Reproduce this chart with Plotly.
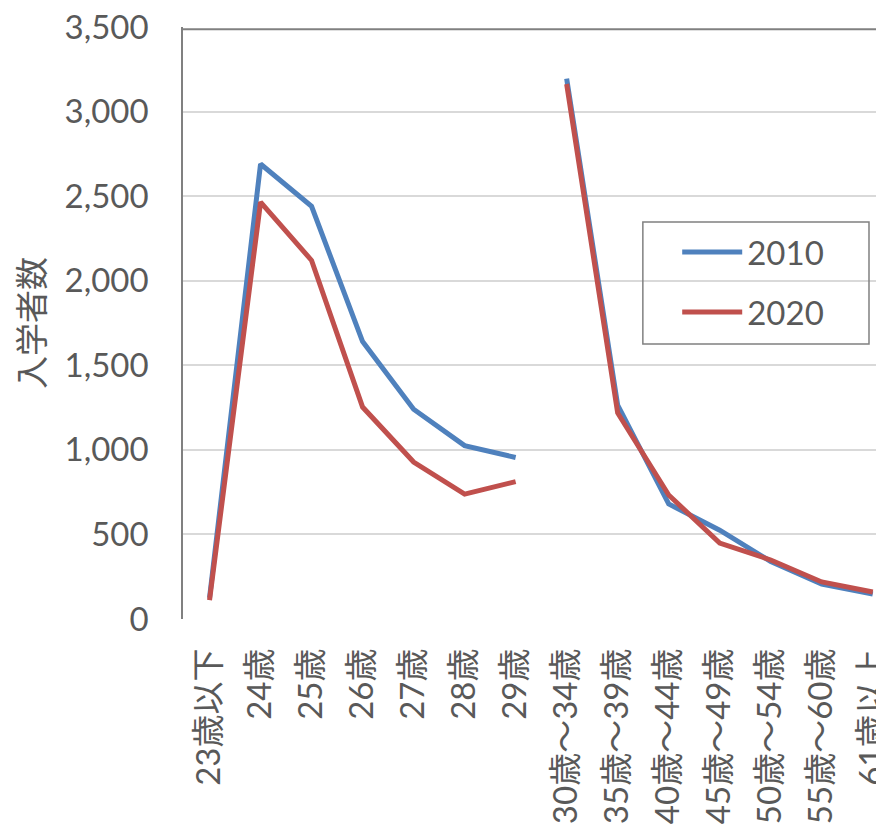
import plotly.graph_objects as go

categories = ["23歳以下", "24歳", "25歳", "26歳", "27歳", "28歳", "29歳",
              "30歳～34歳", "35歳～39歳", "40歳～44歳", "45歳～49歳",
              "50歳～54歳", "55歳～60歳", "61歳以上"]
values_2010 = [125, 2690, 2440, 1640, 1240, 1025, 955,
               3195, 1265, 680, 525, 340, 207, 148]
values_2020 = [112, 2465, 2120, 1253, 928, 738, 812,
               3163, 1218, 733, 449, 349, 219, 160]
series_names = ["2010", "2020"]
colors = ["#4F81BD", "#C0504D"]
split = 7  # the line is broken between 29歳 and 30歳～34歳

FONT = "Lato, 'Noto Sans CJK JP', sans-serif"
TXT = "#595959"

fig = go.Figure()
for name, vals, col in zip(series_names, [values_2010, values_2020], colors):
    for seg, (a, b) in enumerate([(0, split), (split, len(categories))]):
        fig.add_trace(go.Scatter(
            x=categories[a:b], y=vals[a:b], mode="lines", name=name,
            legendgroup=name, showlegend=(seg == 0),
            line=dict(color=col, width=5),
            hoverinfo="x+y+name"))

fig.update_layout(
    width=884, height=829,
    margin=dict(l=175, r=8, t=19, b=218, autoexpand=False),
    paper_bgcolor="white", plot_bgcolor="white",
    font=dict(family=FONT, size=33, color=TXT),
    showlegend=True,
    legend=dict(x=0.705, y=0.667, xanchor="left", yanchor="top",
                bgcolor="rgba(0,0,0,0)", borderwidth=0,
                font=dict(family=FONT, size=33, color=TXT),
                traceorder="grouped", tracegroupgap=14, itemwidth=60),
    xaxis2=dict(overlaying="x", side="top", anchor="y", matches="x",
                showline=True, linecolor="#808080", linewidth=2,
                showticklabels=False, ticks="", showgrid=False, zeroline=False,
                automargin=False),
    shapes=[
        dict(type="line", xref="paper", yref="paper", x0=0, x1=1.02, y0=0.996, y1=0.996,
             line=dict(color="#808080", width=2), layer="above"),
        dict(type="rect", xref="paper", yref="paper", x0=0.656, x1=0.9786,
             y0=0.4645, y1=0.6706, line=dict(color="#808080", width=1.5),
             fillcolor="rgba(0,0,0,0)"),
    ],
)
fig.update_xaxes(
    type="category", categoryorder="array", categoryarray=categories,
    range=[-0.52, 13.22], tickangle=-90, showgrid=False, showline=False,
    zeroline=False, ticks="", ticklabelstandoff=22, automargin=False,
    ticklabeloverflow="allow",
    tickfont=dict(family=FONT, size=33, color=TXT), selector=dict(side=None))
fig.update_layout(xaxis=dict(type="category", categoryorder="array", categoryarray=categories,
    range=[-0.52, 13.22], tickangle=-90, showgrid=False, showline=False,
    zeroline=False, ticks="", ticklabelstandoff=22, automargin=False,
    ticklabeloverflow="allow",
    tickfont=dict(family=FONT, size=33, color=TXT)))
fig.update_yaxes(
    range=[0, 3500], dtick=500, tickformat=",d", showgrid=True,
    gridcolor="#D9D9D9", gridwidth=1.5, zeroline=False,
    showline=True, linecolor="#808080", linewidth=1.5,
    ticks="", ticklabelstandoff=26, automargin=False,
    ticklabeloverflow="allow",
    tickfont=dict(family=FONT, size=33, color=TXT),
    title=dict(text="入学者数", standoff=10,
               font=dict(family=FONT, size=33, color=TXT)))
fig.write_html("out.html", config={"displayModeBar": False})
